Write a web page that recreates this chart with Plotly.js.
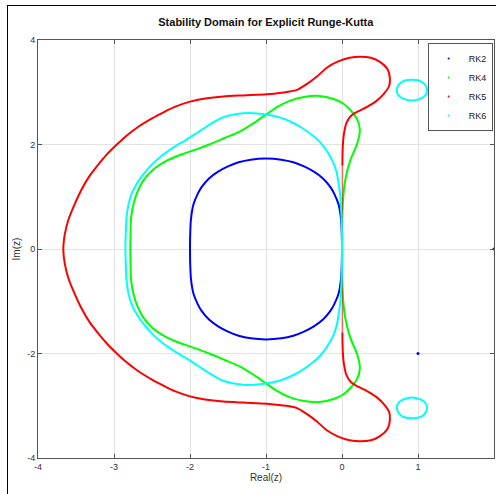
<!DOCTYPE html>
<html>
<head>
<meta charset="utf-8">
<script src="https://cdn.plot.ly/plotly-3.0.1.min.js"></script>
<style>
html,body{margin:0;padding:0;background:#fff;}
#wrap{position:relative;width:496px;height:494px;overflow:hidden;}
#chart{width:496px;height:494px;}
#frame{position:absolute;left:7px;top:5px;width:700px;height:700px;border:1px solid #000;pointer-events:none;}
</style>
</head>
<body>
<div id="wrap"><div id="chart"></div><div id="frame"></div></div>
<script>
// RK2 boundary
const rk2X = [0, -0.003, -0.012, -0.045, -0.1, -0.15, -0.25, -0.37, -0.5, -0.64, -0.8, -1.0, -1.2, -1.36, -1.5, -1.63, -1.75, -1.85, -1.9, -1.955, -1.988, -1.997, -2.0,
              -1.997, -1.988, -1.955, -1.9, -1.85, -1.75, -1.63, -1.5, -1.36, -1.2, -1.0, -0.8, -0.64, -0.5, -0.37, -0.25, -0.15, -0.1, -0.045, -0.012, -0.003, 0];
const rk2Y = [0, 0.3, 0.56, 0.85, 1.05, 1.18, 1.35, 1.48, 1.58, 1.66, 1.71, 1.73, 1.71, 1.66, 1.58, 1.48, 1.35, 1.18, 1.05, 0.85, 0.56, 0.3, 0,
              -0.3, -0.56, -0.85, -1.05, -1.18, -1.35, -1.48, -1.58, -1.66, -1.71, -1.73, -1.71, -1.66, -1.58, -1.48, -1.35, -1.18, -1.05, -0.85, -0.56, -0.3, 0];
// stray RK2 points
const rk2DotX = [1, 2];
const rk2DotY = [-2, 0];

// RK4 boundary
const rk4X = [0, 0, 0.003, 0.013, 0.043, 0.11, 0.2, 0.235, 0.2, 0.11, 0.02, -0.11, -0.3, -0.5, -0.68, -0.85, -0.99, -1.15, -1.34, -1.55, -1.73, -1.89, -2.07, -2.2, -2.33, -2.5, -2.62, -2.69, -2.74, -2.775, -2.782, -2.785,
              -2.782, -2.775, -2.74, -2.69, -2.62, -2.5, -2.33, -2.2, -2.07, -1.89, -1.73, -1.55, -1.34, -1.15, -0.99, -0.85, -0.68, -0.5, -0.3, -0.11, 0.02, 0.11, 0.2, 0.235, 0.2, 0.11, 0.043, 0.013, 0.003, 0, 0];
const rk4Y = [0, 0.3, 0.6, 0.94, 1.32, 1.7, 2.02, 2.28, 2.48, 2.66, 2.78, 2.87, 2.93, 2.91, 2.84, 2.72, 2.58, 2.42, 2.25, 2.12, 2.01, 1.92, 1.83, 1.76, 1.67, 1.5, 1.3, 1.1, 0.88, 0.6, 0.3, 0,
              -0.3, -0.6, -0.88, -1.1, -1.3, -1.5, -1.67, -1.76, -1.83, -1.92, -2.01, -2.12, -2.25, -2.42, -2.58, -2.72, -2.84, -2.91, -2.93, -2.87, -2.78, -2.66, -2.48, -2.28, -2.02, -1.7, -1.32, -0.94, -0.6, -0.3, 0];

// RK5 boundary (main loop)
const rk5X = [0.005, 0.01, 0.025, 0.06, 0.12, 0.22, 0.33, 0.45, 0.55, 0.62, 0.63, 0.6, 0.5, 0.38, 0.24, 0.1, -0.05, -0.2, -0.33, -0.46, -0.6, -0.8, -0.99, -1.3, -1.56, -1.8, -2.0, -2.2, -2.33, -2.5, -2.68, -2.85, -2.97, -3.1, -3.21, -3.33, -3.43, -3.52, -3.6, -3.645, -3.667,
              -3.645, -3.6, -3.52, -3.43, -3.33, -3.21, -3.1, -2.97, -2.85, -2.68, -2.5, -2.33, -2.2, -2.0, -1.8, -1.56, -1.3, -0.99, -0.8, -0.6, -0.46, -0.33, -0.2, -0.05, 0.1, 0.24, 0.38, 0.5, 0.6, 0.63, 0.62, 0.55, 0.45, 0.33, 0.22, 0.12, 0.06, 0.025, 0.01, 0.005];
const rk5Y = [1.6, 1.96, 2.2, 2.42, 2.55, 2.64, 2.72, 2.83, 2.97, 3.12, 3.27, 3.44, 3.58, 3.66, 3.68, 3.66, 3.59, 3.47, 3.3, 3.16, 3.04, 2.99, 2.96, 2.94, 2.92, 2.88, 2.82, 2.72, 2.63, 2.5, 2.34, 2.15, 1.99, 1.8, 1.61, 1.38, 1.13, 0.85, 0.56, 0.3, 0,
              -0.3, -0.56, -0.85, -1.13, -1.38, -1.61, -1.8, -1.99, -2.15, -2.34, -2.5, -2.63, -2.72, -2.82, -2.88, -2.92, -2.94, -2.96, -2.99, -3.04, -3.16, -3.3, -3.47, -3.59, -3.66, -3.68, -3.66, -3.58, -3.44, -3.27, -3.12, -2.97, -2.83, -2.72, -2.64, -2.55, -2.42, -2.2, -1.96, -1.6];
// RK5 boundary hugging the imaginary axis
const rk5AxisX = [0.005, 0.003, 0.002, 0.003, 0.005];
const rk5AxisY = [-1.6, -0.8, 0, 0.8, 1.6];

// RK6 boundary (main loop)
const rk6X = [0, -0.001, -0.004, -0.013, -0.025, -0.045, -0.07, -0.11, -0.17, -0.24, -0.32, -0.42, -0.55, -0.68, -0.8, -0.94, -1.15, -1.3, -1.47, -1.6, -1.73, -1.9, -2.05, -2.2, -2.36, -2.5, -2.62, -2.7, -2.77, -2.81, -2.835, -2.845, -2.85,
              -2.845, -2.835, -2.81, -2.77, -2.7, -2.62, -2.5, -2.36, -2.2, -2.05, -1.9, -1.73, -1.6, -1.47, -1.3, -1.15, -0.94, -0.8, -0.68, -0.55, -0.42, -0.32, -0.24, -0.17, -0.11, -0.07, -0.045, -0.025, -0.013, -0.004, -0.001, 0];
const rk6Y = [0, 0.25, 0.5, 0.81, 1.05, 1.26, 1.46, 1.64, 1.81, 1.96, 2.09, 2.21, 2.34, 2.44, 2.51, 2.56, 2.6, 2.6, 2.56, 2.5, 2.39, 2.23, 2.09, 1.96, 1.8, 1.62, 1.42, 1.25, 1.05, 0.85, 0.6, 0.3, 0,
              -0.3, -0.6, -0.85, -1.05, -1.25, -1.42, -1.62, -1.8, -1.96, -2.09, -2.23, -2.39, -2.5, -2.56, -2.6, -2.6, -2.56, -2.51, -2.44, -2.34, -2.21, -2.09, -1.96, -1.81, -1.64, -1.46, -1.26, -1.05, -0.81, -0.5, -0.25, 0];
// RK6 islands
const rk6IslandUpX = [1.12, 1.09, 1.02, 0.92, 0.82, 0.75, 0.72, 0.75, 0.82, 0.92, 1.02, 1.09, 1.12];
const rk6IslandUpY = [3.04, 3.15, 3.22, 3.24, 3.22, 3.15, 3.04, 2.93, 2.87, 2.84, 2.87, 2.93, 3.04];
const rk6IslandLoX = [1.12, 1.09, 1.02, 0.92, 0.82, 0.75, 0.72, 0.75, 0.82, 0.92, 1.02, 1.09, 1.12];
const rk6IslandLoY = [-3.04, -2.93, -2.87, -2.84, -2.87, -2.93, -3.04, -3.15, -3.22, -3.24, -3.22, -3.15, -3.04];

const seriesNames = ['RK2', 'RK4', 'RK5', 'RK6'];
const seriesColors = ['#0000ff', '#00ff00', '#ff0000', '#00ffff'];
const xTicks = [-4, -3, -2, -1, 0, 1, 2];
const yTicks = [-4, -2, 0, 2, 4];

function curve(x, y, color, group, extra) {
  return Object.assign({
    type: 'scatter', mode: 'lines', x: x, y: y,
    line: {color: color, width: 2, shape: 'spline', smoothing: 0.8},
    showlegend: false, legendgroup: group, hoverinfo: 'skip'
  }, extra || {});
}

const traces = [
  curve(rk2X, rk2Y, seriesColors[0], 'rk2'),
  {type: 'scatter', mode: 'markers', x: rk2DotX, y: rk2DotY, marker: {color: seriesColors[0], size: 3}, showlegend: false, legendgroup: 'rk2', cliponaxis: true},
  curve(rk4X, rk4Y, seriesColors[1], 'rk4'),
  curve(rk5AxisX, rk5AxisY, 'rgba(255,0,0,0.55)', 'rk5', {line: {color: 'rgba(255,0,0,0.55)', width: 1.5}}),
  curve(rk5X, rk5Y, seriesColors[2], 'rk5'),
  curve(rk6X, rk6Y, seriesColors[3], 'rk6'),
  curve(rk6IslandUpX, rk6IslandUpY, seriesColors[3], 'rk6'),
  curve(rk6IslandLoX, rk6IslandLoY, seriesColors[3], 'rk6')
];
// legend entries (dot markers, as in the original)
const groups = ['rk2', 'rk4', 'rk5', 'rk6'];
seriesNames.forEach(function (n, i) {
  traces.push({type: 'scatter', mode: 'markers', x: [null], y: [null], name: n,
    marker: {color: seriesColors[i], size: 2}, legendgroup: groups[i], showlegend: true});
});

const axisCommon = {
  ticks: 'inside', ticklen: 4, tickcolor: '#555', tickwidth: 1,
  showline: true, linecolor: '#555', linewidth: 1, mirror: 'ticks',
  showgrid: true, gridcolor: '#e3e3e3', gridwidth: 1, zeroline: false,
  tickfont: {family: 'Liberation Sans, Arial, sans-serif', size: 9, color: '#333'}
};

const layout = {
  width: 496, height: 494,
  margin: {l: 38, r: 2, t: 40, b: 36, pad: 0},
  paper_bgcolor: '#fff', plot_bgcolor: '#fff',
  font: {family: 'Liberation Sans, Arial, sans-serif', color: '#222'},
  title: {text: '<b>Stability Domain for Explicit Runge-Kutta</b>', x: 0.536, xanchor: 'center', y: 0.955, yanchor: 'middle',
          font: {family: 'Liberation Sans, Arial, sans-serif', size: 11, color: '#111'}},
  xaxis: Object.assign({}, axisCommon, {range: [-4, 2], tickvals: xTicks, ticktext: xTicks.map(String),
    title: {text: 'Real(z)', standoff: 2, font: {family: 'Liberation Sans, Arial, sans-serif', size: 10, color: '#333'}}}),
  yaxis: Object.assign({}, axisCommon, {range: [-4, 4], tickvals: yTicks, ticktext: yTicks.map(String),
    title: {text: 'Im(z)', standoff: 4, font: {family: 'Liberation Sans, Arial, sans-serif', size: 10, color: '#333'}}}),
  legend: {x: 0.997, xanchor: 'right', y: 0.993, yanchor: 'top', bgcolor: '#fff', bordercolor: '#555', borderwidth: 1,
           font: {family: 'Liberation Sans, Arial, sans-serif', size: 9, color: '#222'}, itemwidth: 30, tracegroupgap: 0},
  showlegend: true
};

Plotly.newPlot('chart', traces, layout, {staticPlot: true, displayModeBar: false});
</script>
</body>
</html>
